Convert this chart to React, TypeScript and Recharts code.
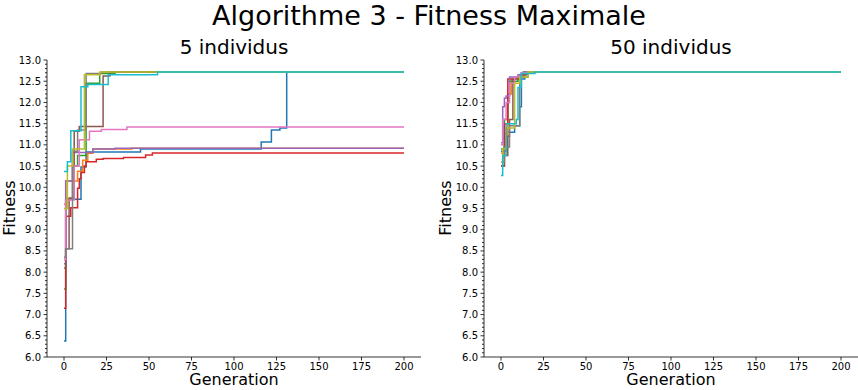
import { LineChart, Line, XAxis, YAxis } from 'recharts'

// [generation, fitness] breakpoints
const left5Blue = [[0, 6.38], [1, 9.72], [10, 10.48], [13, 10.83], [45, 10.9], [116, 11.07], [122, 11.35], [127, 11.4], [131, 12.72], [200, 12.72]]
const left5Orange = [[0, 9.6], [1, 10.15], [8, 10.38], [11, 10.64], [14, 10.8], [17, 10.9], [40, 10.92], [200, 10.92]]
const left5Green = [[0, 7.6], [1, 9.72], [5, 10.5], [8, 10.75], [13, 12.45], [21, 12.68], [30, 12.72], [200, 12.72]]
const left5Red = [[0, 7.15], [1, 9.32], [4, 9.52], [8, 9.98], [9, 10.2], [10, 10.35], [12, 10.5], [13, 10.6], [19, 10.66], [23, 10.68], [35, 10.7], [48, 10.76], [52, 10.81], [200, 10.81]]
const left5Purple = [[0, 8.2], [1, 10.15], [5, 10.82], [17, 10.9], [30, 10.92], [200, 10.92]]
const left5Brown = [[0, 8.1], [1, 8.55], [3, 9.75], [6, 11.32], [9, 11.43], [23, 12.62], [27, 12.72], [200, 12.72]]
const left5Pink = [[0, 8.3], [1, 9.7], [6, 10.5], [9, 11.12], [15, 11.32], [22, 11.36], [37, 11.42], [200, 11.42]]
const left5Gray = [[0, 8.35], [1, 8.55], [5, 10.85], [8, 11.35], [13, 12.68], [22, 12.72], [200, 12.72]]
const left5Olive = [[0, 9.5], [2, 10.5], [5, 10.9], [12, 12.65], [21, 12.72], [200, 12.72]]
const left5Cyan = [[0, 10.37], [2, 10.6], [4, 11.33], [10, 12.37], [14, 12.42], [26, 12.65], [55, 12.72], [200, 12.72]]

const right50Blue = [[0, 10.85], [3, 11.3], [8, 11.45], [11, 11.9], [12, 12.55], [14, 12.72], [200, 12.72]]
const right50Orange = [[0, 10.8], [2, 11.2], [4, 12.2], [6, 12.55], [11, 12.62], [14, 12.72], [200, 12.72]]
const right50Green = [[0, 10.9], [2, 11.6], [4, 12.2], [5, 12.5], [10, 12.6], [13, 12.72], [200, 12.72]]
const right50Red = [[0, 10.5], [2, 11.5], [4, 12.55], [8, 12.6], [12, 12.7], [15, 12.72], [200, 12.72]]
const right50Purple = [[0, 11.05], [1, 11.9], [2, 12.1], [3, 12.15], [5, 12.6], [10, 12.65], [14, 12.72], [200, 12.72]]
const right50Brown = [[0, 10.5], [2, 10.75], [4, 11.2], [5, 11.6], [7, 12.55], [12, 12.65], [16, 12.72], [200, 12.72]]
const right50Pink = [[0, 11.0], [1, 11.6], [3, 12.0], [5, 12.45], [8, 12.6], [12, 12.7], [15, 12.72], [200, 12.72]]
const right50Gray = [[0, 10.6], [2, 10.95], [5, 11.45], [11, 12.6], [16, 12.72], [200, 12.72]]
const right50Olive = [[0, 10.6], [1, 10.9], [3, 11.4], [8, 12.45], [11, 12.6], [16, 12.72], [200, 12.72]]
const right50Cyan = [[0, 10.28], [1, 10.75], [3, 11.5], [9, 11.6], [10, 12.35], [12, 12.68], [20, 12.72], [200, 12.72]]

const xTicks = [0, 25, 50, 75, 100, 125, 150, 175, 200]
const yMajorTicks = [6.0, 6.5, 7.0, 7.5, 8.0, 8.5, 9.0, 9.5, 10.0, 10.5, 11.0, 11.5, 12.0, 12.5, 13.0]
const yMinorTicks = Array.from({ length: 71 }, (_, i) => Math.round((6 + i * 0.1) * 10) / 10)

const COLORS = ['#1f77b4', '#ff7f0e', '#2ca02c', '#d62728', '#9467bd', '#8c564b', '#e377c2', '#7f7f7f', '#bcbd22', '#17becf']

const leftSeries = [left5Blue, left5Orange, left5Green, left5Red, left5Purple, left5Brown, left5Pink, left5Gray, left5Olive, left5Cyan]
const rightSeries = [right50Blue, right50Orange, right50Green, right50Red, right50Purple, right50Brown, right50Pink, right50Gray, right50Olive, right50Cyan]

const FONT = '"DejaVu Sans", sans-serif'

function YTick({ x, y, payload }: any) {
  const v = payload.value
  const isMajor = yMajorTicks.some(m => Math.abs(m - v) < 1e-6)
  return (
    <g>
      <line x1={x - (isMajor ? 3.5 : 2)} x2={x} y1={y} y2={y} stroke="#000" strokeWidth={0.8} />
      {isMajor && (
        <text x={x - 6} y={y} dy={3.5} textAnchor="end" fontSize={10} fontFamily={FONT} fill="#000">
          {v.toFixed(1)}
        </text>
      )}
    </g>
  )
}

function Panel({ series, left, width }: { series: number[][][]; left: number; width: number }) {
  return (
    <div style={{ position: 'absolute', left, top: 0 }}>
      <LineChart width={width} height={390} margin={{ top: 60, right: left === 0 ? 9 : 0, bottom: 0, left: 0 }}>
        <XAxis
          xAxisId="main"
          type="number"
          dataKey="g"
          domain={[-10, 210]}
          ticks={xTicks}
          allowDataOverflow
          height={33}
          axisLine={{ stroke: '#000', strokeWidth: 0.8 }}
          tickLine={{ stroke: '#000', strokeWidth: 0.8 }}
          tickSize={3.5}
          tickMargin={2}
          tick={{ fontSize: 10, fontFamily: FONT, fill: '#000' }}
        />
        <XAxis xAxisId="top" orientation="top" type="number" domain={[-10, 210]} height={0}
          tick={false} tickLine={false} axisLine={{ stroke: '#000', strokeWidth: 0.8 }} />
        <YAxis
          yAxisId="main"
          type="number"
          domain={[6, 13]}
          allowDataOverflow
          ticks={yMinorTicks}
          interval={0}
          width={47}
          tickSize={0}
          tickMargin={0}
          tickLine={false}
          axisLine={{ stroke: '#000', strokeWidth: 0.8 }}
          tick={<YTick />}
        />
        <YAxis yAxisId="right" orientation="right" type="number" domain={[6, 13]} width={0}
          tick={false} tickLine={false} axisLine={{ stroke: '#000', strokeWidth: 0.8 }} />
        {series.map((pts, i) => (
          <Line
            key={i}
            xAxisId="main"
            yAxisId="main"
            data={pts.map(([g, v]) => ({ g, v }))}
            dataKey="v"
            type="stepAfter"
            stroke={COLORS[i]}
            strokeWidth={1.5}
            dot={false}
            isAnimationActive={false}
          />
        ))}
      </LineChart>
    </div>
  )
}

export default function App() {
  return (
    <div style={{ position: 'absolute', left: 0, top: 0, width: 858, height: 390, background: '#fff', overflow: 'hidden' }}>
      <Panel series={leftSeries} left={0} width={430} />
      <Panel series={rightSeries} left={437} width={421} />
      <svg width={858} height={390} style={{ position: 'absolute', left: 0, top: 0, pointerEvents: 'none' }}>
        <g fontFamily={FONT} fill="#000">
          <text x={429} y={25} textAnchor="middle" fontSize={27}>Algorithme 3 - Fitness Maximale</text>
          <text x={234} y={54} textAnchor="middle" fontSize={20}>5 individus</text>
          <text x={671} y={54} textAnchor="middle" fontSize={20}>50 individus</text>
          <text x={234} y={385} textAnchor="middle" fontSize={16}>Generation</text>
          <text x={671} y={385} textAnchor="middle" fontSize={16}>Generation</text>
          <text transform="translate(15,208) rotate(-90)" textAnchor="middle" fontSize={16}>Fitness</text>
          <text transform="translate(451,208) rotate(-90)" textAnchor="middle" fontSize={16}>Fitness</text>
        </g>
      </svg>
    </div>
  )
}
